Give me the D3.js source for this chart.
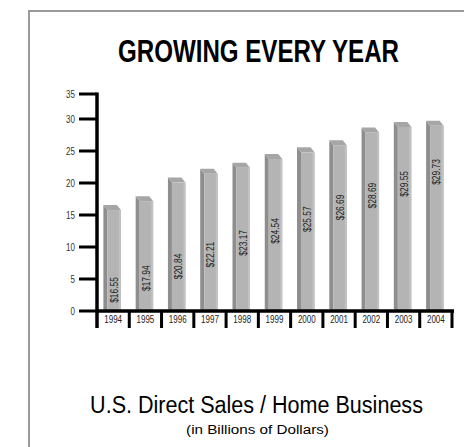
<!DOCTYPE html>
<html>
<head>
<meta charset="utf-8">
<script src="https://cdn.jsdelivr.net/npm/d3@7"></script>
<style>
  body { margin: 0; background: #fff; }
  svg { display: block; }
  text { font-family: "Liberation Sans", Arial, sans-serif; }
</style>
</head>
<body>
<svg id="chart" width="464" height="447"></svg>
<script>
// chart data
var years = ["1994", "1995", "1996", "1997", "1998", "1999", "2000", "2001", "2002", "2003", "2004"];
var sales = [16.55, 17.94, 20.84, 22.21, 23.17, 24.54, 25.57, 26.69, 28.69, 29.55, 29.73];
var yTicks = [0, 5, 10, 15, 20, 25, 30, 35];

var NARROW = 0.8; // no condensed face installed, so squeeze Liberation Sans

var svg = d3.select("#chart");

function place(x, y, rot) {
    return "translate(" + x + "," + y + ")" + (rot ? " rotate(" + rot + ")" : "") + " scale(" + NARROW + ",1)";
}

// centred text squeezed/stretched to a given width
function caption(txt, cx, cy, size, len, weight) {
    var t = svg.append("text")
        .attr("text-anchor", "middle")
        .attr("font-size", size)
        .attr("font-weight", weight || "normal")
        .attr("fill", "#000")
        .text(txt);
    var k = len / t.node().getComputedTextLength();
    t.attr("transform", "translate(" + cx + "," + cy + ") scale(" + k + ",1)");
}

// frame
svg.append("rect")
    .attr("x", 29).attr("y", 11)
    .attr("width", 500).attr("height", 500)
    .attr("fill", "none")
    .attr("stroke", "#9a9a9a")
    .attr("stroke-width", 2);

caption("GROWING EVERY YEAR", 258.5, 62, 32, 281, "bold");

var x = d3.scaleBand().domain(years).range([97, 452]).padding(0);
// top of the axis is squeezed in the original artwork
var y = d3.scaleLinear().domain([0, 30, 35]).range([311, 119, 94]);

var base = y(0);
var depthX = 4, depthY = 5;
var frontW = 13.5;

var bars = svg.append("g").selectAll("g.bar")
    .data(d3.zip(years, sales))
    .enter().append("g")
    .attr("class", "bar");

function frontX(d) { return x(d[0]) + x.bandwidth() / 2 - frontW / 2 + 1; }

// left side face
bars.append("polygon")
    .attr("points", function(d) {
        var fx = frontX(d), top = y(d[1]) + depthY;
        return [[fx, top], [fx - depthX, top - depthY], [fx - depthX, base - 2], [fx, base]].join(" ");
    })
    .attr("fill", "#8e8e8e");

// top face
bars.append("polygon")
    .attr("points", function(d) {
        var fx = frontX(d), top = y(d[1]) + depthY;
        return [[fx, top], [fx - depthX, top - depthY], [fx + frontW - depthX, top - depthY], [fx + frontW, top]].join(" ");
    })
    .attr("fill", "#a6a6a6");

// front face
bars.append("rect")
    .attr("x", frontX)
    .attr("y", function(d) { return y(d[1]) + depthY; })
    .attr("width", frontW)
    .attr("height", function(d) { return base - y(d[1]) - depthY; })
    .attr("fill", "#b4b4b4");

bars.append("rect")
    .attr("x", function(d) { return frontX(d) + frontW - 2; })
    .attr("y", function(d) { return y(d[1]) + depthY; })
    .attr("width", 2)
    .attr("height", function(d) { return base - y(d[1]) - depthY; })
    .attr("fill", "#c2c2c2");

// value labels climb along a diagonal like the original
bars.append("text")
    .attr("transform", function(d, i) {
        var cx = frontX(d) + frontW / 2 + 3.5;
        var cy = base - 21 - 11.8 * i;
        return place(cx, cy, -90);
    })
    .attr("text-anchor", "middle")
    .attr("font-size", 10.5)
    .attr("fill", "#222")
    .text(function(d) { return "$" + d3.format(".2f")(d[1]); });

// y axis
var axis = svg.append("g").attr("stroke", "#000");
axis.append("line")
    .attr("x1", x.range()[0]).attr("x2", x.range()[0])
    .attr("y1", y(35) - 1.5).attr("y2", 328)
    .attr("stroke-width", 3.5);

axis.selectAll("line.tick")
    .data(yTicks)
    .enter().append("line")
    .attr("class", "tick")
    .attr("x1", 79).attr("x2", x.range()[0])
    .attr("y1", function(d) { return y(d); })
    .attr("y2", function(d) { return y(d); })
    .attr("stroke-width", 3);

svg.append("g").selectAll("text")
    .data(yTicks)
    .enter().append("text")
    .attr("transform", function(d) { return place(75, y(d) + 3.5); })
    .attr("text-anchor", "end")
    .attr("font-size", 10)
    .attr("fill", "#333")
    .text(function(d) { return d; });

// x axis
axis.append("line")
    .attr("x1", x.range()[0]).attr("x2", x.range()[1] + 2)
    .attr("y1", base).attr("y2", base)
    .attr("stroke-width", 3.5);

axis.selectAll("line.sep")
    .data(years.slice(1).concat(["end"]))
    .enter().append("line")
    .attr("class", "sep")
    .attr("x1", function(d) { return d == "end" ? x.range()[1] : x(d); })
    .attr("x2", function(d) { return d == "end" ? x.range()[1] : x(d); })
    .attr("y1", base).attr("y2", 328)
    .attr("stroke-width", 3);

svg.append("g").selectAll("text")
    .data(years)
    .enter().append("text")
    .attr("transform", function(d) { return place(x(d) + x.bandwidth() / 2, 323); })
    .attr("text-anchor", "middle")
    .attr("font-size", 10)
    .attr("fill", "#222")
    .text(function(d) { return d; });

// captions
caption("U.S. Direct Sales / Home Business", 256.5, 413, 24, 333);
caption("(in Billions of Dollars)", 257.5, 434, 13.5, 143);
</script>
</body>
</html>
